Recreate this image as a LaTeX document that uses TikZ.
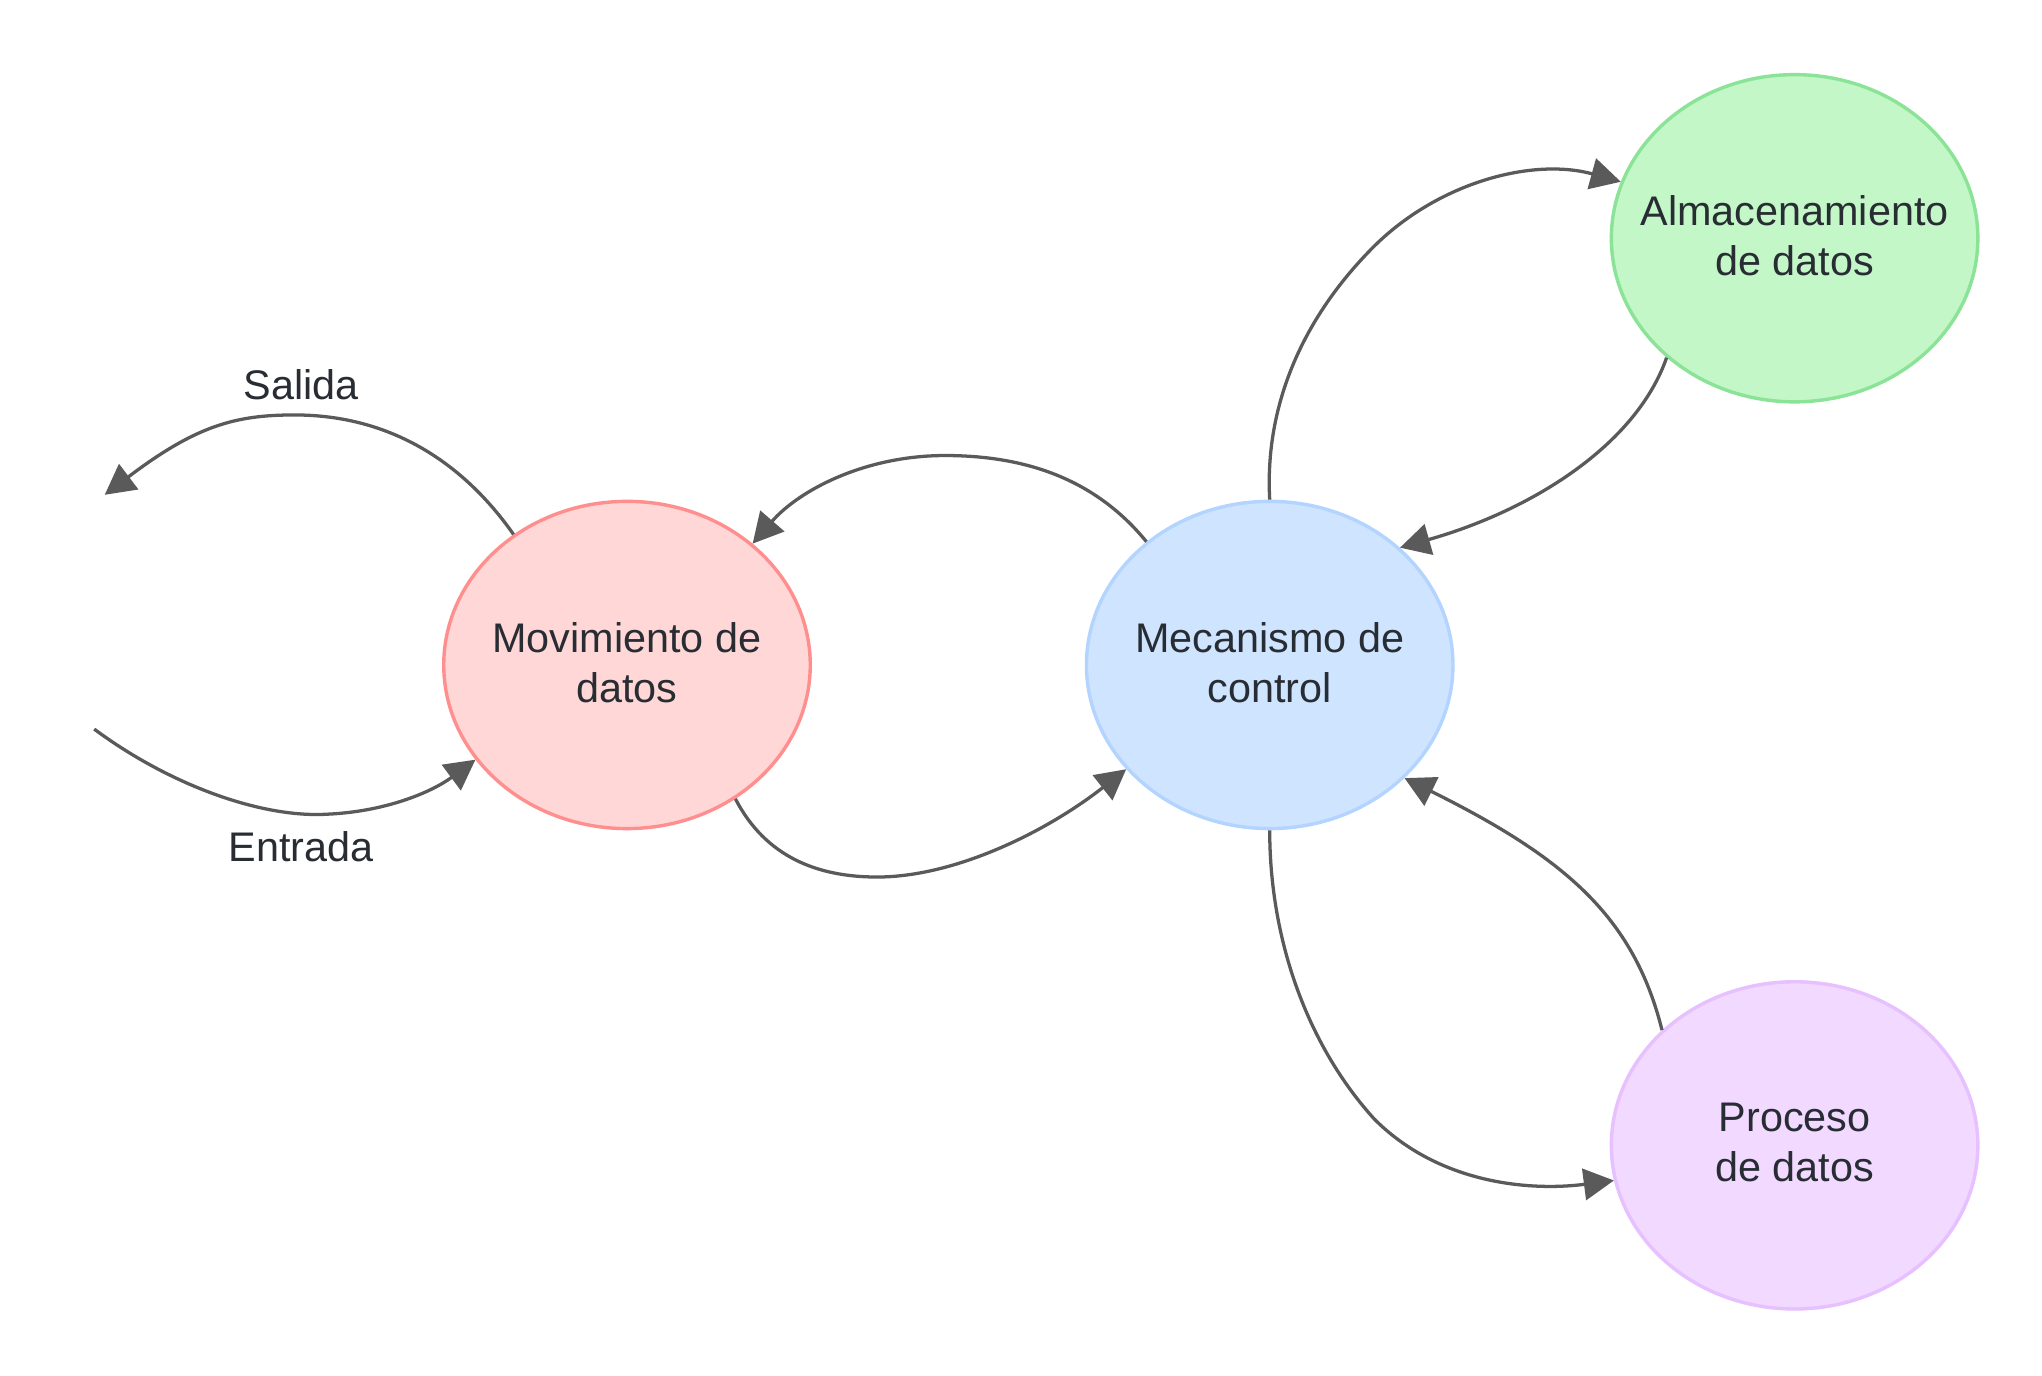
\documentclass[tikz,border=0pt]{standalone}
\usepackage{fontspec}
\setmainfont{Liberation Sans}
\usetikzlibrary{shapes.geometric,arrows.meta}
\definecolor{ink}{HTML}{282C33}
\definecolor{arr}{HTML}{5A5A5A}
\definecolor{movF}{HTML}{FFD7D7}\definecolor{movD}{HTML}{FF8F8F}
\definecolor{mecF}{HTML}{CFE4FF}\definecolor{mecD}{HTML}{B3D4FF}
\definecolor{almF}{HTML}{C3F7C8}\definecolor{almD}{HTML}{8AE396}
\definecolor{proF}{HTML}{F2D9FF}\definecolor{proD}{HTML}{E6C0FF}
\begin{document}
\begin{tikzpicture}[x=0.5pt,y=-0.5pt,
  state/.style={ellipse,draw,line width=1.3pt,minimum width=140pt,minimum height=125pt,inner sep=0pt},
  txt/.style={text=ink,font=\fontsize{15.8}{19}\selectfont,align=center,inner sep=0pt},
  conn/.style={draw=arr,line width=1.25pt,-{Triangle[length=11.5pt,width=12pt]}}]
\path[use as bounding box,fill=white] (0,0) rectangle (1560,1051);

\node[state,fill=movF,draw=movD] (mov) at (479,508) {};
\node[state,fill=mecF,draw=mecD] (mec) at (970,508) {};
\node[state,fill=almF,draw=almD] (alm) at (1371,182) {};
\node[state,fill=proF,draw=proD] (pro) at (1371,875) {};

\node[txt] (movtxt) at (479,506) {Movimiento de\\datos};
\node[txt] (mectxt) at (970,506) {Mecanismo de\\control};
\node[txt] (almtxt) at (1371,180) {Almacenamiento\\de datos};
\node[txt] (protxt) at (1371,873) {Proceso\\de datos};

\coordinate (salEnd) at (80,378);
\coordinate (entStart) at (72,557);

\node[txt] (sal) at (230,294) {Salida};
\node[txt] (ent) at (230,647) {Entrada};

% Salida
\draw[conn] (mov.131.6) .. controls (355,355) and (300,317) .. (225,317)
  .. controls (180,317) and (150,325) .. (salEnd);
% Entrada
\draw[conn] (entStart) .. controls (130,600) and (200,625) .. (250,622)
  .. controls (295,620) and (330,605) .. (mov.212.5);
% Mec -> Mov
\draw[conn] (mec.135.6) .. controls (840,370) and (790,348) .. (722,348)
  .. controls (660,348) and (610,375) .. (mov.44.1);
% Mov -> Mec
\draw[conn] (mov.309) .. controls (585,655) and (625,670) .. (670,670)
  .. controls (730,670) and (800,635) .. (mec.216.7);
% Mec -> Alm
\draw[conn] (mec.90) .. controls (966,310) and (995,245) .. (1045,193)
  .. controls (1095,140) and (1170,120) .. (alm.162.6);
% Alm -> Mec
\draw[conn] (alm.223.2) .. controls (1250,340) and (1170,390) .. (mec.42.6);
% Mec -> Pro
\draw[conn] (mec.270) .. controls (970,720) and (1000,800) .. (1050,855)
  .. controls (1100,905) and (1170,910) .. (pro.191);
% Pro -> Mec
\draw[conn] (pro.139.8) .. controls (1248,700) and (1195,655) .. (mec.320.8);
\end{tikzpicture}
\end{document}
